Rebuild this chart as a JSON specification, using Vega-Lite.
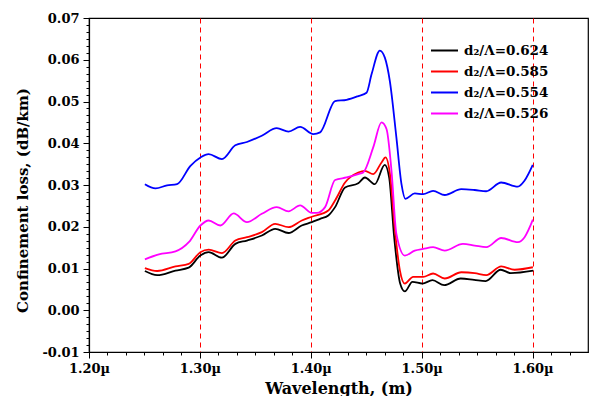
{
  "$schema": "https://vega.github.io/schema/vega-lite/v6.json",
  "width": 499,
  "height": 334,
  "autosize": {"type": "none"},
  "padding": {"left": 89, "top": 18, "right": 2, "bottom": 44},
  "background": "white",
  "config": {
    "view": {"stroke": "black", "strokeWidth": 1.2},
    "axis": {"domainColor": "black", "domainWidth": 1.2, "tickColor": "black", "labelColor": "black", "titleColor": "black", "labelFont": "DejaVu Serif", "labelFontWeight": "bold", "titleFont": "DejaVu Serif", "titleFontWeight": "bold", "labelOverlap": false, "labelBound": false, "labelFlush": false}
  },
  "data": {"values": [
    {"s": "d₂/Λ=0.624", "w": 1.2504, "loss": 0.0094},
    {"s": "d₂/Λ=0.624", "w": 1.2615, "loss": 0.0084},
    {"s": "d₂/Λ=0.624", "w": 1.2780, "loss": 0.0095},
    {"s": "d₂/Λ=0.624", "w": 1.2899, "loss": 0.0102},
    {"s": "d₂/Λ=0.624", "w": 1.3004, "loss": 0.0131},
    {"s": "d₂/Λ=0.624", "w": 1.3079, "loss": 0.0139},
    {"s": "d₂/Λ=0.624", "w": 1.3199, "loss": 0.0126},
    {"s": "d₂/Λ=0.624", "w": 1.3320, "loss": 0.0159},
    {"s": "d₂/Λ=0.624", "w": 1.3424, "loss": 0.0167},
    {"s": "d₂/Λ=0.624", "w": 1.3559, "loss": 0.0179},
    {"s": "d₂/Λ=0.624", "w": 1.3679, "loss": 0.0195},
    {"s": "d₂/Λ=0.624", "w": 1.3799, "loss": 0.0185},
    {"s": "d₂/Λ=0.624", "w": 1.3918, "loss": 0.0203},
    {"s": "d₂/Λ=0.624", "w": 1.4009, "loss": 0.0211},
    {"s": "d₂/Λ=0.624", "w": 1.4084, "loss": 0.0219},
    {"s": "d₂/Λ=0.624", "w": 1.4158, "loss": 0.0227},
    {"s": "d₂/Λ=0.624", "w": 1.4219, "loss": 0.0247},
    {"s": "d₂/Λ=0.624", "w": 1.4309, "loss": 0.0294},
    {"s": "d₂/Λ=0.624", "w": 1.4428, "loss": 0.0304},
    {"s": "d₂/Λ=0.624", "w": 1.4488, "loss": 0.0318},
    {"s": "d₂/Λ=0.624", "w": 1.4578, "loss": 0.0302},
    {"s": "d₂/Λ=0.624", "w": 1.4667, "loss": 0.0348},
    {"s": "d₂/Λ=0.624", "w": 1.4707, "loss": 0.0318},
    {"s": "d₂/Λ=0.624", "w": 1.4752, "loss": 0.0175},
    {"s": "d₂/Λ=0.624", "w": 1.4806, "loss": 0.0064},
    {"s": "d₂/Λ=0.624", "w": 1.4848, "loss": 0.0045},
    {"s": "d₂/Λ=0.624", "w": 1.4917, "loss": 0.0068},
    {"s": "d₂/Λ=0.624", "w": 1.5007, "loss": 0.0064},
    {"s": "d₂/Λ=0.624", "w": 1.5097, "loss": 0.0072},
    {"s": "d₂/Λ=0.624", "w": 1.5203, "loss": 0.0060},
    {"s": "d₂/Λ=0.624", "w": 1.5352, "loss": 0.0076},
    {"s": "d₂/Λ=0.624", "w": 1.5473, "loss": 0.0073},
    {"s": "d₂/Λ=0.624", "w": 1.5577, "loss": 0.0070},
    {"s": "d₂/Λ=0.624", "w": 1.5713, "loss": 0.0097},
    {"s": "d₂/Λ=0.624", "w": 1.5803, "loss": 0.0089},
    {"s": "d₂/Λ=0.624", "w": 1.6007, "loss": 0.0095},

    {"s": "d₂/Λ=0.585", "w": 1.2504, "loss": 0.0101},
    {"s": "d₂/Λ=0.585", "w": 1.2615, "loss": 0.0094},
    {"s": "d₂/Λ=0.585", "w": 1.2780, "loss": 0.0105},
    {"s": "d₂/Λ=0.585", "w": 1.2899, "loss": 0.0111},
    {"s": "d₂/Λ=0.585", "w": 1.3004, "loss": 0.0139},
    {"s": "d₂/Λ=0.585", "w": 1.3079, "loss": 0.0145},
    {"s": "d₂/Λ=0.585", "w": 1.3199, "loss": 0.0137},
    {"s": "d₂/Λ=0.585", "w": 1.3320, "loss": 0.0167},
    {"s": "d₂/Λ=0.585", "w": 1.3424, "loss": 0.0175},
    {"s": "d₂/Λ=0.585", "w": 1.3559, "loss": 0.0187},
    {"s": "d₂/Λ=0.585", "w": 1.3679, "loss": 0.0207},
    {"s": "d₂/Λ=0.585", "w": 1.3799, "loss": 0.0199},
    {"s": "d₂/Λ=0.585", "w": 1.3919, "loss": 0.0215},
    {"s": "d₂/Λ=0.585", "w": 1.4009, "loss": 0.0224},
    {"s": "d₂/Λ=0.585", "w": 1.4158, "loss": 0.0239},
    {"s": "d₂/Λ=0.585", "w": 1.4219, "loss": 0.0263},
    {"s": "d₂/Λ=0.585", "w": 1.4309, "loss": 0.0306},
    {"s": "d₂/Λ=0.585", "w": 1.4428, "loss": 0.0330},
    {"s": "d₂/Λ=0.585", "w": 1.4488, "loss": 0.0334},
    {"s": "d₂/Λ=0.585", "w": 1.4563, "loss": 0.0326},
    {"s": "d₂/Λ=0.585", "w": 1.4638, "loss": 0.0354},
    {"s": "d₂/Λ=0.585", "w": 1.4674, "loss": 0.0366},
    {"s": "d₂/Λ=0.585", "w": 1.4714, "loss": 0.0326},
    {"s": "d₂/Λ=0.585", "w": 1.4759, "loss": 0.0191},
    {"s": "d₂/Λ=0.585", "w": 1.4804, "loss": 0.0095},
    {"s": "d₂/Λ=0.585", "w": 1.4848, "loss": 0.0064},
    {"s": "d₂/Λ=0.585", "w": 1.4923, "loss": 0.0080},
    {"s": "d₂/Λ=0.585", "w": 1.5013, "loss": 0.0080},
    {"s": "d₂/Λ=0.585", "w": 1.5103, "loss": 0.0088},
    {"s": "d₂/Λ=0.585", "w": 1.5208, "loss": 0.0076},
    {"s": "d₂/Λ=0.585", "w": 1.5358, "loss": 0.0091},
    {"s": "d₂/Λ=0.585", "w": 1.5478, "loss": 0.0089},
    {"s": "d₂/Λ=0.585", "w": 1.5583, "loss": 0.0084},
    {"s": "d₂/Λ=0.585", "w": 1.5718, "loss": 0.0105},
    {"s": "d₂/Λ=0.585", "w": 1.5838, "loss": 0.0097},
    {"s": "d₂/Λ=0.585", "w": 1.6003, "loss": 0.0103},

    {"s": "d₂/Λ=0.554", "w": 1.2504, "loss": 0.0302},
    {"s": "d₂/Λ=0.554", "w": 1.2600, "loss": 0.0292},
    {"s": "d₂/Λ=0.554", "w": 1.2704, "loss": 0.0299},
    {"s": "d₂/Λ=0.554", "w": 1.2794, "loss": 0.0302},
    {"s": "d₂/Λ=0.554", "w": 1.2915, "loss": 0.0346},
    {"s": "d₂/Λ=0.554", "w": 1.3005, "loss": 0.0366},
    {"s": "d₂/Λ=0.554", "w": 1.3079, "loss": 0.0374},
    {"s": "d₂/Λ=0.554", "w": 1.3199, "loss": 0.0362},
    {"s": "d₂/Λ=0.554", "w": 1.3319, "loss": 0.0395},
    {"s": "d₂/Λ=0.554", "w": 1.3424, "loss": 0.0403},
    {"s": "d₂/Λ=0.554", "w": 1.3558, "loss": 0.0418},
    {"s": "d₂/Λ=0.554", "w": 1.3693, "loss": 0.0436},
    {"s": "d₂/Λ=0.554", "w": 1.3799, "loss": 0.0428},
    {"s": "d₂/Λ=0.554", "w": 1.3904, "loss": 0.0439},
    {"s": "d₂/Λ=0.554", "w": 1.4023, "loss": 0.0422},
    {"s": "d₂/Λ=0.554", "w": 1.4084, "loss": 0.0426},
    {"s": "d₂/Λ=0.554", "w": 1.4219, "loss": 0.0501},
    {"s": "d₂/Λ=0.554", "w": 1.4323, "loss": 0.0504},
    {"s": "d₂/Λ=0.554", "w": 1.4428, "loss": 0.0513},
    {"s": "d₂/Λ=0.554", "w": 1.4503, "loss": 0.0521},
    {"s": "d₂/Λ=0.554", "w": 1.4548, "loss": 0.0565},
    {"s": "d₂/Λ=0.554", "w": 1.4623, "loss": 0.0622},
    {"s": "d₂/Λ=0.554", "w": 1.4668, "loss": 0.0605},
    {"s": "d₂/Λ=0.554", "w": 1.4713, "loss": 0.0549},
    {"s": "d₂/Λ=0.554", "w": 1.4772, "loss": 0.0414},
    {"s": "d₂/Λ=0.554", "w": 1.4818, "loss": 0.0302},
    {"s": "d₂/Λ=0.554", "w": 1.4853, "loss": 0.0267},
    {"s": "d₂/Λ=0.554", "w": 1.4938, "loss": 0.0280},
    {"s": "d₂/Λ=0.554", "w": 1.5013, "loss": 0.0278},
    {"s": "d₂/Λ=0.554", "w": 1.5103, "loss": 0.0286},
    {"s": "d₂/Λ=0.554", "w": 1.5208, "loss": 0.0276},
    {"s": "d₂/Λ=0.554", "w": 1.5357, "loss": 0.0290},
    {"s": "d₂/Λ=0.554", "w": 1.5478, "loss": 0.0288},
    {"s": "d₂/Λ=0.554", "w": 1.5582, "loss": 0.0285},
    {"s": "d₂/Λ=0.554", "w": 1.5717, "loss": 0.0306},
    {"s": "d₂/Λ=0.554", "w": 1.5867, "loss": 0.0296},
    {"s": "d₂/Λ=0.554", "w": 1.5927, "loss": 0.0310},
    {"s": "d₂/Λ=0.554", "w": 1.6002, "loss": 0.0348},

    {"s": "d₂/Λ=0.526", "w": 1.2504, "loss": 0.0122},
    {"s": "d₂/Λ=0.526", "w": 1.2630, "loss": 0.0134},
    {"s": "d₂/Λ=0.526", "w": 1.2780, "loss": 0.0141},
    {"s": "d₂/Λ=0.526", "w": 1.2900, "loss": 0.0163},
    {"s": "d₂/Λ=0.526", "w": 1.3005, "loss": 0.0203},
    {"s": "d₂/Λ=0.526", "w": 1.3079, "loss": 0.0215},
    {"s": "d₂/Λ=0.526", "w": 1.3184, "loss": 0.0203},
    {"s": "d₂/Λ=0.526", "w": 1.3305, "loss": 0.0232},
    {"s": "d₂/Λ=0.526", "w": 1.3424, "loss": 0.0211},
    {"s": "d₂/Λ=0.526", "w": 1.3558, "loss": 0.0231},
    {"s": "d₂/Λ=0.526", "w": 1.3693, "loss": 0.0247},
    {"s": "d₂/Λ=0.526", "w": 1.3799, "loss": 0.0237},
    {"s": "d₂/Λ=0.526", "w": 1.3904, "loss": 0.0251},
    {"s": "d₂/Λ=0.526", "w": 1.4009, "loss": 0.0233},
    {"s": "d₂/Λ=0.526", "w": 1.4054, "loss": 0.0233},
    {"s": "d₂/Λ=0.526", "w": 1.4129, "loss": 0.0247},
    {"s": "d₂/Λ=0.526", "w": 1.4219, "loss": 0.0312},
    {"s": "d₂/Λ=0.526", "w": 1.4323, "loss": 0.0318},
    {"s": "d₂/Λ=0.526", "w": 1.4428, "loss": 0.0326},
    {"s": "d₂/Λ=0.526", "w": 1.4473, "loss": 0.0330},
    {"s": "d₂/Λ=0.526", "w": 1.4563, "loss": 0.0390},
    {"s": "d₂/Λ=0.526", "w": 1.4638, "loss": 0.0450},
    {"s": "d₂/Λ=0.526", "w": 1.4683, "loss": 0.0434},
    {"s": "d₂/Λ=0.526", "w": 1.4728, "loss": 0.0334},
    {"s": "d₂/Λ=0.526", "w": 1.4772, "loss": 0.0183},
    {"s": "d₂/Λ=0.526", "w": 1.4848, "loss": 0.0131},
    {"s": "d₂/Λ=0.526", "w": 1.4938, "loss": 0.0143},
    {"s": "d₂/Λ=0.526", "w": 1.5013, "loss": 0.0147},
    {"s": "d₂/Λ=0.526", "w": 1.5103, "loss": 0.0151},
    {"s": "d₂/Λ=0.526", "w": 1.5208, "loss": 0.0143},
    {"s": "d₂/Λ=0.526", "w": 1.5372, "loss": 0.0159},
    {"s": "d₂/Λ=0.526", "w": 1.5478, "loss": 0.0155},
    {"s": "d₂/Λ=0.526", "w": 1.5583, "loss": 0.0151},
    {"s": "d₂/Λ=0.526", "w": 1.5718, "loss": 0.0173},
    {"s": "d₂/Λ=0.526", "w": 1.5868, "loss": 0.0163},
    {"s": "d₂/Λ=0.526", "w": 1.5928, "loss": 0.0175},
    {"s": "d₂/Λ=0.526", "w": 1.6003, "loss": 0.0217}
  ]},
  "mark": {"type": "line", "strokeWidth": 1.8, "interpolate": "monotone"},
  "encoding": {
    "x": {
      "field": "w", "type": "quantitative",
      "scale": {"domain": [1.2, 1.65], "nice": false, "zero": false},
      "axis": {
        "title": "Wavelength, (m)",
        "titleFontSize": 16,
        "titlePadding": 5,
        "labelFontSize": 13,
        "labelPadding": 4,
        "values": [1.2, 1.216667, 1.233333, 1.25, 1.266667, 1.283333, 1.3, 1.316667, 1.333333, 1.35, 1.366667, 1.383333, 1.4, 1.416667, 1.433333, 1.45, 1.466667, 1.483333, 1.5, 1.516667, 1.533333, 1.55, 1.566667, 1.583333, 1.6, 1.616667, 1.633333],
        "labelExpr": "abs(datum.value*10-round(datum.value*10))<0.001 ? format(datum.value,'.2f')+'µ' : ''",
        "tickSize": {"condition": {"test": "abs(datum.value*10-round(datum.value*10))<0.001", "value": 6}, "value": 3},
        "grid": true,
        "gridColor": "#ff0000",
        "gridDash": [5, 4],
        "gridWidth": 1,
        "gridOpacity": {"condition": {"test": "datum.value>1.25 && datum.value<1.62 && abs(datum.value*10-round(datum.value*10))<0.001", "value": 1}, "value": 0}
      }
    },
    "y": {
      "field": "loss", "type": "quantitative",
      "scale": {"domain": [-0.01, 0.07], "nice": false, "zero": false},
      "axis": {
        "title": "Confinement loss, (dB/km)",
        "titleFontSize": 15,
        "titleX": -59,
        "titleY": 182,
        "labelFontSize": 13,
        "labelPadding": 4,
        "grid": false,
        "values": [-0.01, -0.008333, -0.006667, -0.005, -0.003333, -0.001667, 0, 0.001667, 0.003333, 0.005, 0.006667, 0.008333, 0.01, 0.011667, 0.013333, 0.015, 0.016667, 0.018333, 0.02, 0.021667, 0.023333, 0.025, 0.026667, 0.028333, 0.03, 0.031667, 0.033333, 0.035, 0.036667, 0.038333, 0.04, 0.041667, 0.043333, 0.045, 0.046667, 0.048333, 0.05, 0.051667, 0.053333, 0.055, 0.056667, 0.058333, 0.06, 0.061667, 0.063333, 0.065, 0.066667, 0.068333, 0.07],
        "labelExpr": "abs(datum.value*100-round(datum.value*100))<0.001 ? (datum.value<0 ? '-' : '') + format(abs(datum.value),'.2f') : ''",
        "tickSize": {"condition": {"test": "abs(datum.value*100-round(datum.value*100))<0.001", "value": 6}, "value": 3}
      }
    },
    "color": {
      "field": "s", "type": "nominal",
      "scale": {"domain": ["d₂/Λ=0.624", "d₂/Λ=0.585", "d₂/Λ=0.554", "d₂/Λ=0.526"], "range": ["#000000", "#ff0000", "#0000ff", "#ff00ff"]},
      "legend": {
        "title": null,
        "orient": "none",
        "legendX": 341,
        "legendY": 18,
        "padding": 0,
        "symbolType": "stroke",
        "symbolSize": 729,
        "symbolStrokeWidth": 2,
        "labelFont": "DejaVu Serif",
        "labelFontWeight": "bold",
        "labelFontSize": 13.5,
        "labelColor": "black",
        "labelOffset": 5,
        "rowPadding": -6
      }
    }
  }
}
